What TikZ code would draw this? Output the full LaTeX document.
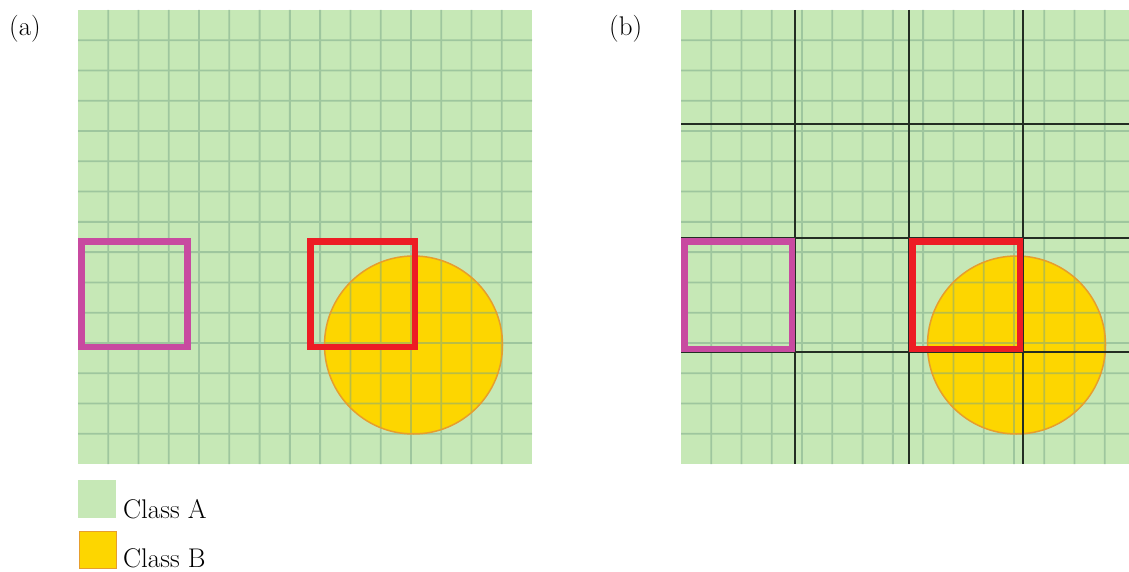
\documentclass[tikz,border=0pt]{standalone}
\definecolor{clsA}{RGB}{198,232,182}
\definecolor{gridc}{RGB}{120,165,135}
\definecolor{gold}{RGB}{253,214,0}
\definecolor{goldedge}{RGB}{230,158,45}
\definecolor{magbox}{RGB}{200,74,160}
\definecolor{redbox}{RGB}{237,28,36}
\definecolor{blockline}{RGB}{35,45,35}
\begin{document}
\begin{tikzpicture}[x=1pt,y=-1pt,
  gridline/.style={draw=gridc,line width=1.8pt,opacity=0.5},
  classB/.style={fill=gold},
  classBedge/.style={draw=goldedge,line width=1.5pt},
  blockln/.style={draw=blockline,line width=2.5pt},
  magframe/.style={draw=magbox,line width=6.5pt},
  redframe/.style={draw=redbox,line width=6.5pt},
  lbl/.style={font=\fontsize{27}{31}\selectfont,inner sep=0pt,anchor=base west}]
\useasboundingbox (0,0) rectangle (1129,572);

% ---------- panel (a) ----------
\fill[clsA] (78,10) rectangle (532,464);
\fill[classB] (413.5,345) circle (89);
\begin{scope}[transparency group,opacity=0.5]
  \clip (78,10) rectangle (532,464);
  \foreach \i in {1,...,14} {
    \draw[draw=gridc,line width=1.8pt] ({78+\i*30.2667},10) -- ++(0,454);
    \draw[draw=gridc,line width=1.8pt] (78,{10+\i*30.2667}) -- ++(454,0);
  }
\end{scope}
\draw[classBedge] (413.5,345) circle (89);
\draw[magframe] (81.25,241.5) rectangle (187.25,346.75);
\draw[redframe] (310.25,241.5) rectangle (414.75,346.75);

% ---------- panel (b) ----------
\fill[clsA] (681,10) rectangle (1129,464);
\fill[classB] (1016.5,345) circle (89);
\begin{scope}[transparency group,opacity=0.5]
  \clip (681,10) rectangle (1129,464);
  \foreach \i in {1,...,14} {
    \draw[draw=gridc,line width=1.8pt] ({681+\i*30.2667},10) -- ++(0,454);
    \draw[draw=gridc,line width=1.8pt] (681,{10+\i*30.2667}) -- ++(448,0);
  }
\end{scope}
\draw[classBedge] (1016.5,345) circle (89);
\foreach \k in {1,2,3} {
  \draw[blockln] ({681+\k*114},10) -- ++(0,454);
  \draw[blockln] (681,{10+\k*114}) -- (1129,{10+\k*114});
}
\draw[magframe] (684.25,241.25) rectangle (791.75,348.75);
\draw[redframe] (912.25,241.25) rectangle (1019.75,348.75);

% ---------- labels ----------
\node[lbl] (la) at (9,36) {(a)};
\node[lbl] (lb) at (609,36) {(b)};

% ---------- legend ----------
\node[fill=clsA,minimum size=38pt,inner sep=0pt,anchor=north west] (legA) at (78,480) {};
\node[lbl] (legAtext) at (123,518) {Class A};
\node[classB,draw=goldedge,line width=1.5pt,minimum size=37pt,inner sep=0pt,anchor=north west] (legB) at (78.75,530.75) {};
\node[lbl] (legBtext) at (123,567) {Class B};
\end{tikzpicture}
\end{document}
